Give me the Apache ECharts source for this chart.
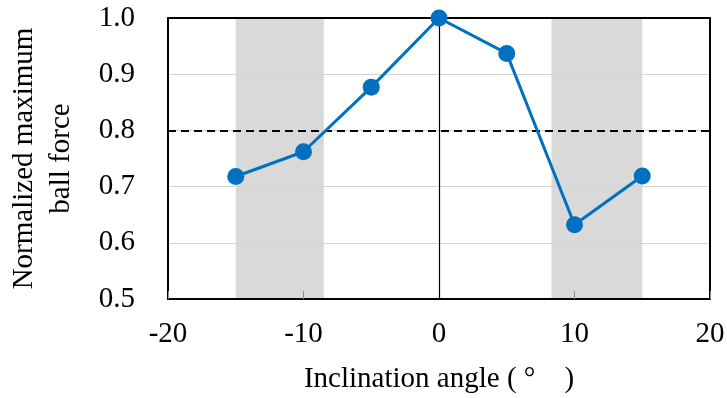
<!DOCTYPE html>
<html>
<head>
<meta charset="utf-8">
<script src="https://cdn.jsdelivr.net/npm/echarts@6/dist/echarts.min.js"></script>
<style>
  html, body { margin: 0; padding: 0; background: #fff; }
  #chart { width: 727px; height: 398px; }
</style>
</head>
<body>
<div id="chart"></div>
<script>
// Inclination angle (degrees) and normalized maximum ball force
const angles = [-15, -10, -5, 0, 5, 10, 15];
const forces = [0.718, 0.762, 0.877, 1.0, 0.937, 0.632, 0.719];
// Shaded angle ranges
const shadedRanges = [[-15, -8.5], [8.3, 15]];
// Reference threshold
const thresholdValue = 0.8;

const FONT = '"Liberation Serif", "Times New Roman", serif';
const FS = 29;
const chart = echarts.init(document.getElementById('chart'), null, { renderer: 'canvas' });

const frameLine = { show: true, onZero: false, lineStyle: { color: '#000', width: 2 } };

chart.setOption({
  animation: false,
  backgroundColor: '#fff',
  textStyle: { fontFamily: FONT },
  grid: {
    left: 168, right: 17, top: 18, bottom: 99, show: false,
    containLabel: false, outerBoundsMode: 'none'
  },
  xAxis: [
    {
      type: 'value',
      position: 'bottom',
      z: 3,
      min: -20, max: 20, interval: 10,
      name: 'Inclination angle ( °    )',
      nameLocation: 'middle',
      nameGap: 66,
      nameTextStyle: { fontFamily: FONT, fontSize: FS, color: '#000' },
      axisLine: frameLine,
      axisTick: { show: true, inside: true, length: 8, lineStyle: { color: '#8c8c8c', width: 1 } },
      axisLabel: { fontFamily: FONT, fontSize: FS, color: '#000', margin: 21 },
      splitLine: { show: false }
    },
    {
      // top edge of the frame
      type: 'value',
      position: 'top',
      z: 3,
      min: -20, max: 20, interval: 10,
      axisLine: frameLine,
      axisTick: { show: false },
      axisLabel: { show: false },
      splitLine: { show: false }
    }
  ],
  yAxis: [
    {
      type: 'value',
      position: 'left',
      z: 3,
      min: 0.5, max: 1.0, interval: 0.1,
      name: 'Normalized maximum\nball force',
      nameLocation: 'middle',
      nameGap: 88,
      nameTextStyle: { fontFamily: FONT, fontSize: FS, color: '#000', lineHeight: 37 },
      axisLine: frameLine,
      axisTick: { show: false },
      axisLabel: {
        fontFamily: FONT, fontSize: FS, color: '#000', margin: 33,
        formatter: v => v.toFixed(1)
      },
      splitLine: {
        show: true, showMinLine: false, showMaxLine: false,
        lineStyle: { color: '#d4d4d4', width: 1 }
      }
    },
    {
      // right edge of the frame
      type: 'value',
      position: 'right',
      z: 3,
      min: 0.5, max: 1.0, interval: 0.1,
      axisLine: frameLine,
      axisTick: { show: false },
      axisLabel: { show: false },
      splitLine: { show: false }
    }
  ],
  series: [
    {
      // shaded angle bands
      type: 'line',
      data: [],
      z: 1,
      silent: true,
      markArea: {
        silent: true,
        itemStyle: { color: '#d9d9d9' },
        data: shadedRanges.map(r => [{ xAxis: r[0] }, { xAxis: r[1] }])
      }
    },
    {
      // zero-angle line and threshold line
      type: 'line',
      data: [],
      z: 4,
      silent: true,
      markLine: {
        silent: true,
        symbol: 'none',
        label: { show: false },
        data: [
          { xAxis: 0, lineStyle: { color: '#000', width: 1.2, type: 'solid' } },
          { yAxis: thresholdValue, lineStyle: { color: '#000', width: 2, type: [8, 5] } }
        ]
      }
    },
    {
      type: 'line',
      z: 5,
      data: angles.map((a, i) => [a, forces[i]]),
      symbol: 'circle',
      symbolSize: 17,
      lineStyle: { color: '#0070C0', width: 3 },
      itemStyle: { color: '#0070C0' }
    }
  ]
});
</script>
</body>
</html>
